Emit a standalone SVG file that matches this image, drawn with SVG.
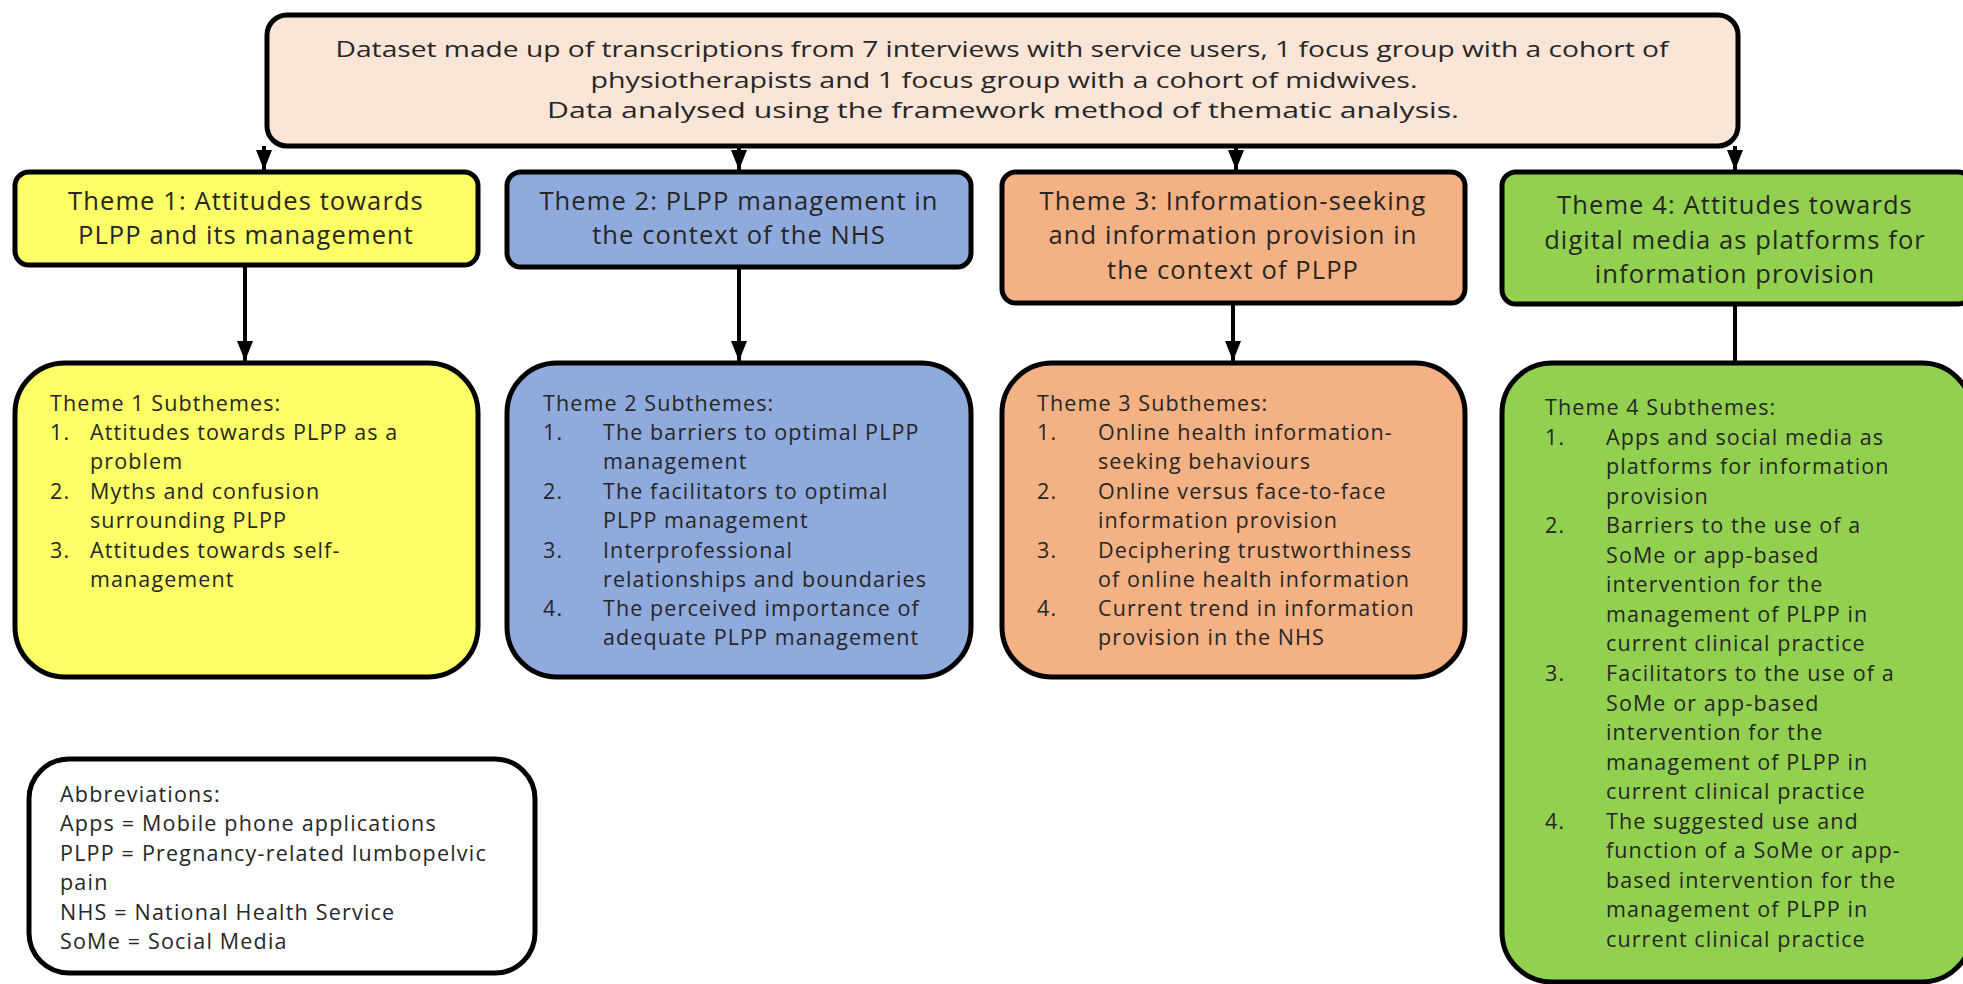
<svg xmlns="http://www.w3.org/2000/svg" width="1963" height="984" viewBox="0 0 1963 984">
<defs>
<style>
.box{stroke:#000;stroke-width:5}
.top{fill:#FBE5D6}
.y{fill:#FFFF66}
.b{fill:#8FAADC}
.o{fill:#F4B183}
.g{fill:#92D050}
.w{fill:#FFFFFF}
.tt{font-family:"Open Sans","Liberation Sans",sans-serif;font-size:22px;fill:#262626;text-anchor:middle}
.th{font-family:"Open Sans","Liberation Sans",sans-serif;font-size:25.5px;letter-spacing:1.1px;fill:#262626;text-anchor:middle}
.st{font-family:"Open Sans","Liberation Sans",sans-serif;font-size:21.5px;letter-spacing:1.1px;fill:#262626}
.ab{font-family:"Open Sans","Liberation Sans",sans-serif;font-size:21.5px;letter-spacing:1.2px;fill:#262626}
.c{stroke:#000;stroke-width:4;fill:none}
</style>
<marker id="ah" viewBox="0 0 20 16" refX="20" refY="8" markerWidth="20" markerHeight="16" markerUnits="userSpaceOnUse" orient="auto">
<path d="M0,0 L20,8 L0,16 z" fill="#000"/>
</marker>
</defs>
<rect width="1963" height="984" fill="#FFFFFF"/>
<g id="connectors">
<line class="c" x1="264" y1="146" x2="264" y2="170" marker-end="url(#ah)"/>
<line class="c" x1="739" y1="146" x2="739" y2="170" marker-end="url(#ah)"/>
<line class="c" x1="1236" y1="146" x2="1236" y2="170" marker-end="url(#ah)"/>
<line class="c" x1="1735" y1="146" x2="1735" y2="170" marker-end="url(#ah)"/>
<line class="c" x1="245" y1="267" x2="245" y2="361" marker-end="url(#ah)"/>
<line class="c" x1="739" y1="269" x2="739" y2="361" marker-end="url(#ah)"/>
<line class="c" x1="1233" y1="305" x2="1233" y2="361" marker-end="url(#ah)"/>
<line class="c" x1="1735" y1="306" x2="1735" y2="363"/>
</g>
<g id="dataset">
<rect class="box top" x="267" y="15" width="1471" height="131" rx="20"/>
<text class="tt" x="1002" y="57" textLength="1333" lengthAdjust="spacingAndGlyphs">Dataset made up of transcriptions from 7 interviews with service users, 1 focus group with a cohort of</text>
<text class="tt" x="1004" y="88" textLength="827" lengthAdjust="spacingAndGlyphs">physiotherapists and 1 focus group with a cohort of midwives.</text>
<text class="tt" x="1003" y="118" textLength="912" lengthAdjust="spacingAndGlyphs">Data analysed using the framework method of thematic analysis.</text>
</g>
<g id="theme1">
<rect class="box y" x="15" y="172" width="463" height="93" rx="14"/>
<text class="th" x="246" y="210">Theme 1: Attitudes towards</text>
<text class="th" x="246" y="244">PLPP and its management</text>
</g>
<g id="theme2">
<rect class="box b" x="507" y="172" width="464" height="95" rx="14"/>
<text class="th" x="739" y="210">Theme 2: PLPP management in</text>
<text class="th" x="739" y="244">the context of the NHS</text>
</g>
<g id="theme3">
<rect class="box o" x="1002" y="172" width="463" height="131" rx="14"/>
<text class="th" x="1233" y="210">Theme 3: Information-seeking</text>
<text class="th" x="1233" y="244">and information provision in</text>
<text class="th" x="1233" y="279">the context of PLPP</text>
</g>
<g id="theme4">
<rect class="box g" x="1502" y="172" width="470" height="132" rx="14"/>
<text class="th" x="1735" y="214">Theme 4: Attitudes towards</text>
<text class="th" x="1735" y="249">digital media as platforms for</text>
<text class="th" x="1735" y="283">information provision</text>
</g>
<g id="sub1">
<rect class="box y" x="15" y="363" width="463" height="314" rx="50"/>
<text class="st" x="50" y="411">Theme 1 Subthemes:</text>
<text class="st" x="50" y="440">1.</text><text class="st" x="90" y="440">Attitudes towards PLPP as a</text>
<text class="st" x="90" y="469">problem</text>
<text class="st" x="50" y="499">2.</text><text class="st" x="90" y="499">Myths and confusion</text>
<text class="st" x="90" y="528">surrounding PLPP</text>
<text class="st" x="50" y="558">3.</text><text class="st" x="90" y="558">Attitudes towards self-</text>
<text class="st" x="90" y="587">management</text>
</g>
<g id="sub2">
<rect class="box b" x="507" y="363" width="464" height="314" rx="50"/>
<text class="st" x="543" y="411">Theme 2 Subthemes:</text>
<text class="st" x="543" y="440">1.</text><text class="st" x="603" y="440">The barriers to optimal PLPP</text>
<text class="st" x="603" y="469">management</text>
<text class="st" x="543" y="499">2.</text><text class="st" x="603" y="499">The facilitators to optimal</text>
<text class="st" x="603" y="528">PLPP management</text>
<text class="st" x="543" y="558">3.</text><text class="st" x="603" y="558">Interprofessional</text>
<text class="st" x="603" y="587">relationships and boundaries</text>
<text class="st" x="543" y="616">4.</text><text class="st" x="603" y="616">The perceived importance of</text>
<text class="st" x="603" y="645">adequate PLPP management</text>
</g>
<g id="sub3">
<rect class="box o" x="1002" y="363" width="463" height="314" rx="50"/>
<text class="st" x="1037" y="411">Theme 3 Subthemes:</text>
<text class="st" x="1037" y="440">1.</text><text class="st" x="1098" y="440">Online health information-</text>
<text class="st" x="1098" y="469">seeking behaviours</text>
<text class="st" x="1037" y="499">2.</text><text class="st" x="1098" y="499">Online versus face-to-face</text>
<text class="st" x="1098" y="528">information provision</text>
<text class="st" x="1037" y="558">3.</text><text class="st" x="1098" y="558">Deciphering trustworthiness</text>
<text class="st" x="1098" y="587">of online health information</text>
<text class="st" x="1037" y="616">4.</text><text class="st" x="1098" y="616">Current trend in information</text>
<text class="st" x="1098" y="645">provision in the NHS</text>
</g>
<g id="sub4">
<rect class="box g" x="1502" y="363" width="470" height="619" rx="50"/>
<text class="st" x="1545" y="415">Theme 4 Subthemes:</text>
<text class="st" x="1545" y="445">1.</text><text class="st" x="1606" y="445">Apps and social media as</text>
<text class="st" x="1606" y="474">platforms for information</text>
<text class="st" x="1606" y="504">provision</text>
<text class="st" x="1545" y="533">2.</text><text class="st" x="1606" y="533">Barriers to the use of a</text>
<text class="st" x="1606" y="563">SoMe or app-based</text>
<text class="st" x="1606" y="592">intervention for the</text>
<text class="st" x="1606" y="622">management of PLPP in</text>
<text class="st" x="1606" y="651">current clinical practice</text>
<text class="st" x="1545" y="681">3.</text><text class="st" x="1606" y="681">Facilitators to the use of a</text>
<text class="st" x="1606" y="711">SoMe or app-based</text>
<text class="st" x="1606" y="740">intervention for the</text>
<text class="st" x="1606" y="770">management of PLPP in</text>
<text class="st" x="1606" y="799">current clinical practice</text>
<text class="st" x="1545" y="829">4.</text><text class="st" x="1606" y="829">The suggested use and</text>
<text class="st" x="1606" y="858">function of a SoMe or app-</text>
<text class="st" x="1606" y="888">based intervention for the</text>
<text class="st" x="1606" y="917">management of PLPP in</text>
<text class="st" x="1606" y="947">current clinical practice</text>
</g>
<g id="abbreviations">
<rect class="box w" x="29" y="759" width="506" height="214" rx="40"/>
<text class="ab" x="60" y="802">Abbreviations:</text>
<text class="ab" x="60" y="831">Apps = Mobile phone applications</text>
<text class="ab" x="60" y="861">PLPP = Pregnancy-related lumbopelvic</text>
<text class="ab" x="60" y="890">pain</text>
<text class="ab" x="60" y="920">NHS = National Health Service</text>
<text class="ab" x="60" y="949">SoMe = Social Media</text>
</g>
</svg>
